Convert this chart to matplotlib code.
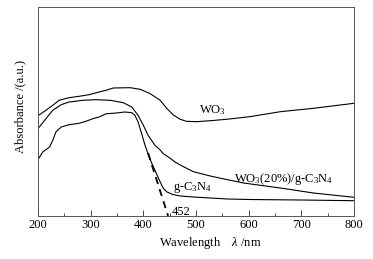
import matplotlib
matplotlib.use("Agg")
import matplotlib.pyplot as plt
from matplotlib.ticker import MultipleLocator

plt.rcParams['font.family'] = ['Liberation Serif', 'DejaVu Serif']
plt.rcParams['mathtext.fontset'] = 'custom'
plt.rcParams['mathtext.rm'] = 'Liberation Serif'
plt.rcParams['mathtext.it'] = 'Liberation Serif:italic'

# Data (wavelength nm, absorbance in arbitrary units)
wo3_x = [201, 215, 228, 240, 259, 278, 297, 316, 329, 343, 375, 394, 413, 432,
         444, 457, 470, 482, 501, 527, 558, 602, 660, 723, 800]
wo3_y = [100.7, 105.7, 110.7, 115.7, 118.3, 119.7, 121.3, 124, 125.7, 128, 128.3, 126.7, 122.3, 115.7,
         107.8, 101, 96.7, 94.7, 94.3, 95.3, 96.7, 99.3, 104.3, 107.7, 112.7]

comp_x = [201, 215, 228, 244, 259, 285, 310, 337, 362, 378, 390, 400, 409, 422,
          432, 438, 451, 460, 470, 495, 527, 558, 590, 625, 660, 723, 800]
comp_y = [88, 97.3, 105.7, 111.3, 114, 115.7, 116.3, 115.7, 113.3, 109, 100.7, 90.7, 80.7, 70.7,
          66, 62.3, 57.7, 54, 51, 44.3, 40, 36.5, 33, 30.5, 28, 23, 18.7]

gcn_x = [201, 209, 222, 228, 234, 244, 259, 278, 291, 304, 316, 323, 330, 349, 365, 378,
         384, 390, 397, 403, 409, 415, 420, 426, 432, 438, 445, 456, 470, 495, 527, 560, 602, 700, 800]
gcn_y = [57.3, 64, 69, 75.7, 84, 89, 91.3, 92.7, 94.7, 97.3, 99, 100.7, 102.3, 103, 104, 103.3,
         100.7, 94, 82, 71, 62, 54, 48, 41, 34, 27.5, 24, 21.5, 20, 19, 18, 17, 16.5, 16, 15.3]

tangent_x = [409, 447]
tangent_y = [63, 0]

fig = plt.figure(figsize=(3.73, 2.59), dpi=100)
ax = fig.add_axes([0.1019, 0.166, 0.8472, 0.807])

ax.plot(wo3_x, wo3_y, color='black', lw=0.8)
ax.plot(comp_x, comp_y, color='black', lw=0.8)
ax.plot(gcn_x, gcn_y, color='black', lw=0.8)
ax.plot(tangent_x, tangent_y, color='black', lw=1.3, ls=(0, (4, 3)))

ax.set_xlim(200, 800)
ax.set_ylim(0, 209)
ax.xaxis.set_major_locator(MultipleLocator(100))
ax.xaxis.set_minor_locator(MultipleLocator(50))
ax.set_yticks([])
fs = 9
ax.tick_params(axis='x', which='major', direction='in', length=4, width=0.7, labelsize=fs, pad=2.5, color='#444444')
ax.tick_params(axis='x', which='minor', direction='in', length=2.5, width=0.7, color='#444444')
for s in ax.spines.values():
    s.set_color('#555555')
    s.set_linewidth(0.7)

ax.text(505, 103, r'WO$_3$', fontsize=fs, va='baseline', ha='left')
ax.text(572, 34.5, r'WO$_3$(20%)/g-C$_3$N$_4$', fontsize=fs, va='baseline', ha='left')
ax.text(456, 26, r'g-C$_3$N$_4$', fontsize=fs, va='baseline', ha='left')
ax.text(454, 1.5, '452', fontsize=fs, va='baseline', ha='left')

ax.text(0.546, -0.129, r'Wavelength    $\lambda$ /nm', fontsize=fs, ha='center', va='center',
        transform=ax.transAxes)
ax.text(-0.0547, 0.524, 'Absorbance /(a.u.)', fontsize=fs, ha='center', va='center',
        rotation=90, transform=ax.transAxes)

fig.savefig('out.png', dpi=100)
